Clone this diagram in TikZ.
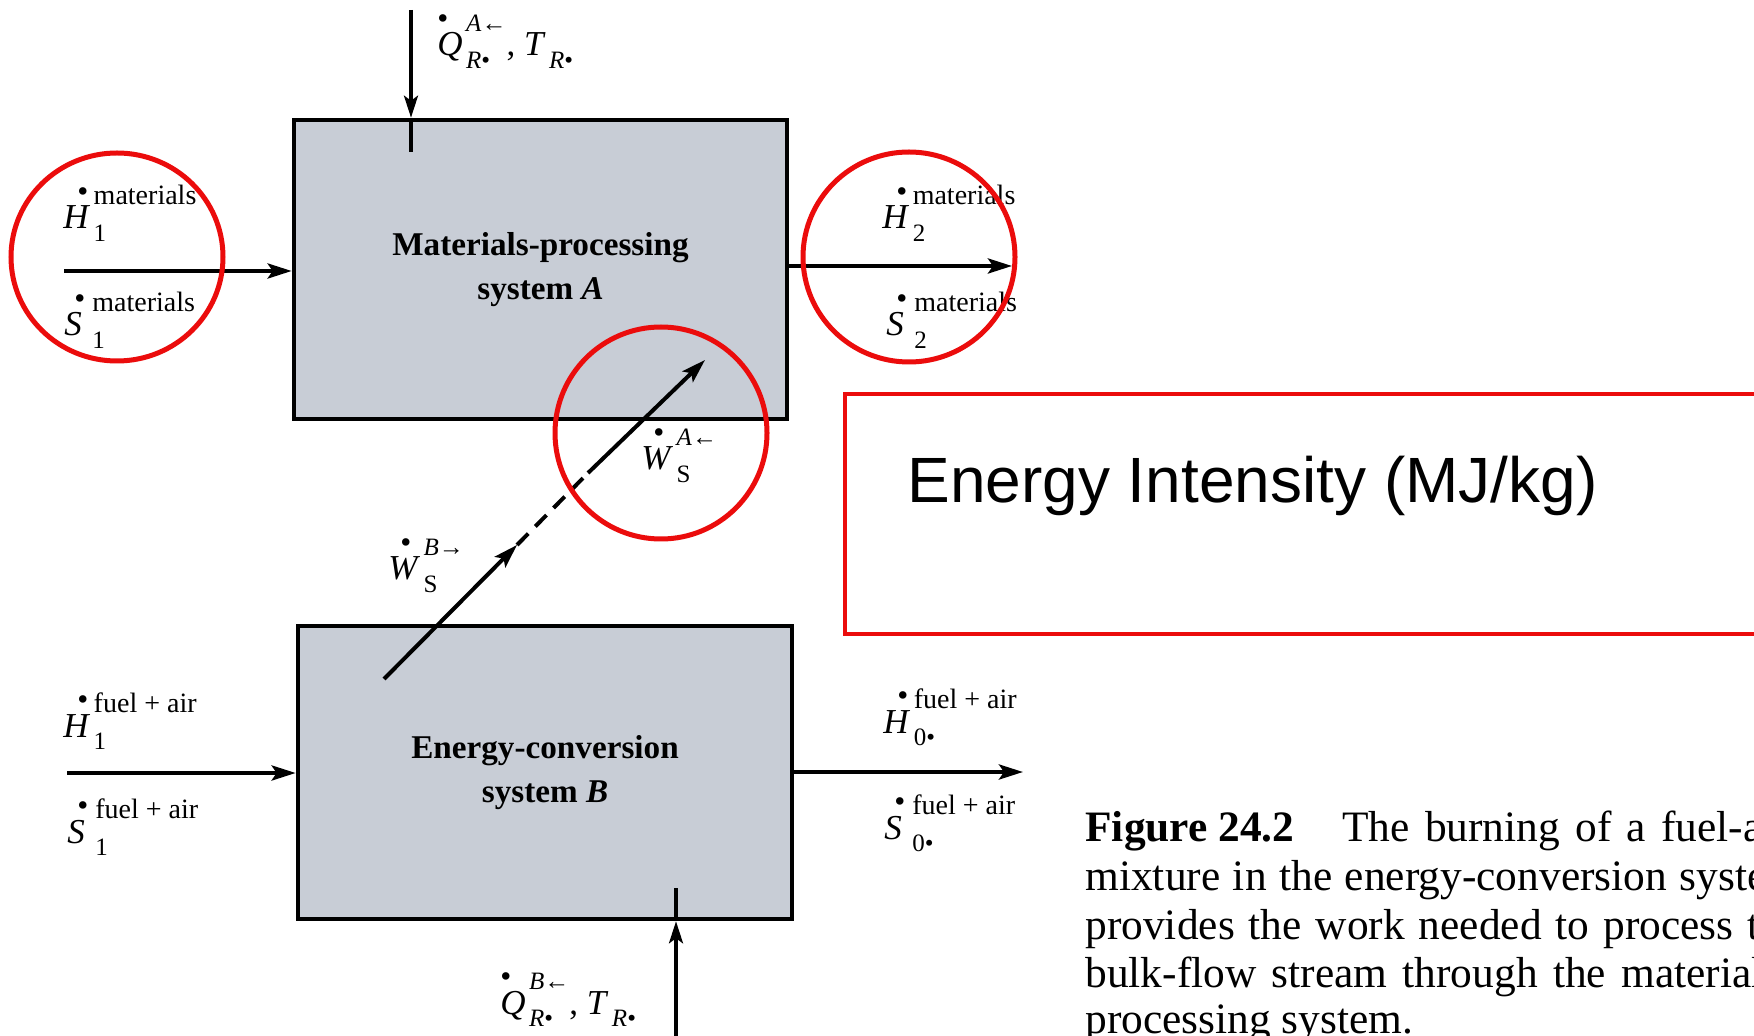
\documentclass[tikz,border=0pt]{standalone}
\usepackage{fontspec}
\setmainfont{Liberation Serif}
\newfontfamily\sansf{Liberation Sans}
\usetikzlibrary{arrows.meta,calc}
\definecolor{boxfill}{RGB}{200,205,214}
\definecolor{mark}{RGB}{235,12,12}
\newcommand{\lf}{\fontsize{17.5}{19}\selectfont}
\newcommand{\scrfont}{\fontsize{12.5}{13}\selectfont}
\newcommand{\wsc}[1]{{\fontsize{14}{14}\selectfont #1}}
\newlength\scrw
\newsavebox\scrsup
\newsavebox\scrsub
\newcommand{\scr}[3][0.1em]{\hspace{#1}\sbox\scrsup{\scrfont #2}\sbox\scrsub{\scrfont #3}%
  \setlength\scrw{\wd\scrsup}\ifdim\wd\scrsub>\scrw\setlength\scrw{\wd\scrsub}\fi
  \makebox[\scrw][l]{\makebox[0pt][l]{\raisebox{0.70em}{\usebox\scrsup}}\raisebox{-0.36em}{\usebox\scrsub}}}
\newcommand{\dt}[2][0.4em]{\makebox[0pt][l]{\hspace{#1}\smash{\raisebox{0.98em}{\upshape\bfseries\fontsize{23}{23}\selectfont .}}}#2}
\begin{document}
\begin{tikzpicture}[x=0.5pt,y=-0.5pt,
  sysbox/.style={draw=black, line width=2.3pt, fill=boxfill, inner sep=0pt, align=center, font=\fontsize{16.6}{22}\selectfont\bfseries},
  arr/.style={line width=2pt, -{Stealth[length=12pt,width=7.5pt,inset=2.5pt]}},
  varr/.style={line width=1.7pt, -{Stealth[length=11pt,width=7pt,inset=2.5pt]}},
  vline/.style={line width=1.7pt},
  ring/.style={draw=mark, line width=2.5pt},
  lbl/.style={inner sep=0pt, anchor=base west, font=\lf},
  captext/.style={inner sep=0pt, anchor=base west, font=\fontsize{21.7}{24}\selectfont}]
\useasboundingbox (0,0) rectangle (1754,1036);
\clip (0,0) rectangle (1754,1036);
\fill[white] (0,0) rectangle (1754,1036);

% boxes
\node[sysbox, minimum width=246.5pt, minimum height=149.5pt] (A) at (540.5,269.5) {Materials-processing\\system \textit{A}};
\node[sysbox, minimum width=247pt, minimum height=146.5pt] (B) at (545,772.5) {Energy-conversion\\system \textit{B}};

% coordinates of free ends
\coordinate (inA) at (64,271);
\coordinate (outA) at (1012,266);
\coordinate (qA) at (411,10);
\coordinate (inB) at (67,773);
\coordinate (outB) at (1023,772);
\coordinate (qB) at (676,1036);
\coordinate (w0) at (384,679);
\coordinate (w1) at (517,545);
\coordinate (w2) at (588,473);
\coordinate (w3) at (705,360);

% connectors
\draw[arr] (inA) -- (inA -| A.west);
\draw[arr] (A.east |- outA) -- (outA);
\draw[varr] (qA) -- (qA |- A.north);
\draw[vline] (qA |- A.north) -- ++(0,34);
\draw[arr] (inB) -- (inB -| B.west);
\draw[arr] (B.east |- outB) -- (outB);
\draw[varr] (qB) -- (qB |- B.south);
\draw[vline] (qB |- B.south) -- ++(0,-33);
\draw[arr] (w0) -- (w1);
\draw[line width=2pt, dash pattern=on 8pt off 5pt] (w1) -- (w2);
\draw[arr] (w2) -- (w3);

% labels
\node[lbl] (h1m) at (63,229) {\dt{\textit{H}}\scr{\wsc{materials}}{1}};
\node[lbl] (s1m) at (64,336) {\dt[0.28em]{\textit{S}}\scr[0.3em]{\wsc{materials}}{1}};
\node[lbl] (h2m) at (882,229) {\dt{\textit{H}}\scr{\wsc{materials}}{2}};
\node[lbl] (s2m) at (886,336) {\dt[0.28em]{\textit{S}}\scr[0.3em]{\wsc{materials}}{2}};
\node[lbl] (qAl) at (437,56) {\dt[0em]{\textit{Q}}\scr{\textit{A}←}{\textit{R}•}, \textit{T}\scr{}{\textit{R}•}};
\node[lbl] (qBl) at (500,1014) {\dt[0em]{\textit{Q}}\scr{\textit{B}←}{\textit{R}•}, \textit{T}\scr{}{\textit{R}•}};
\node[lbl] (wBl) at (388,580) {\dt[0.35em]{\textit{W}}\scr{\textit{B}→}{S}};
\node[lbl] (wAl) at (641,470) {\dt[0.35em]{\textit{W}}\scr{\textit{A}←}{S}};
\node[lbl] (h1f) at (63,737) {\dt{\textit{H}}\scr{\wsc{fuel + air}}{1}};
\node[lbl] (s1f) at (67,843) {\dt[0.28em]{\textit{S}}\scr[0.3em]{\wsc{fuel + air}}{1}};
\node[lbl] (h0f) at (883,733) {\dt{\textit{H}}\scr{\wsc{fuel + air}}{0•}};
\node[lbl] (s0f) at (884,839) {\dt[0.28em]{\textit{S}}\scr[0.3em]{\wsc{fuel + air}}{0•}};

% red annotations
\draw[ring] (117,257) circle [x radius=106, y radius=104];
\draw[ring] (909,257) circle [x radius=106, y radius=105];
\draw[ring] (661,433) circle [x radius=106, y radius=106];
\draw[draw=mark, line width=2pt] (845,394) rectangle (1800,634);
\node[inner sep=0pt, anchor=base west] (ei) at (907,503) {\sansf\fontsize{32}{36}\selectfont Energy Intensity (MJ/kg)};

% caption
\node[captext] (c1a) at (1085,841) {\bfseries Figure 24.2};
\node[captext] (c1b) at (1342,841) {\makebox[210pt][s]{The burning of a fuel-a}};
\node[captext] (c2) at (1085,890) {\makebox[340.5pt][s]{mixture in the energy-conversion syste}};
\node[captext] (c3) at (1085,939) {\makebox[337pt][s]{provides the work needed to process t}};
\node[captext] (c4) at (1085,987) {\makebox[339pt][s]{bulk-flow stream through the material}};
\node[captext] (c5) at (1085,1033) {processing system.};
\end{tikzpicture}
\end{document}
